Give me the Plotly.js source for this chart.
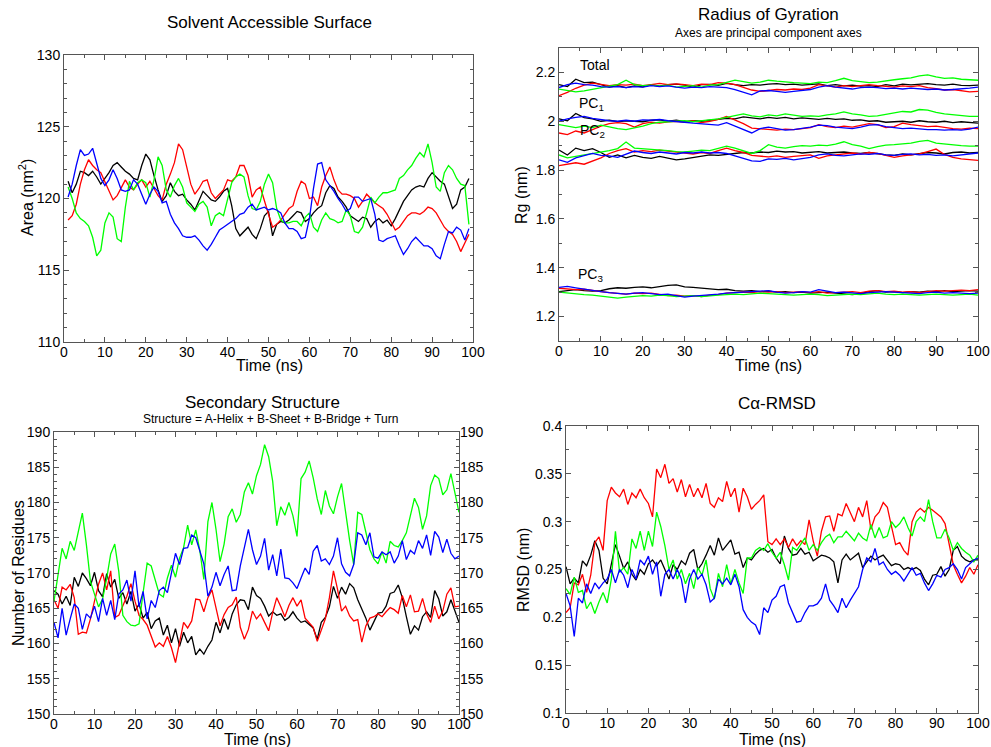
<!DOCTYPE html>
<html>
<head>
<meta charset="utf-8">
<script src="https://cdn.plot.ly/plotly-3.0.1.min.js"></script>
<style>html,body{margin:0;padding:0;background:#fff;}#chart{width:991px;height:747px;}</style>
</head>
<body>
<div id="chart"></div>
<script>
// ---------------- time grids ----------------
const tSAS = [1,2,3,4,5,6,7,8,9,10,11,12,13,14,15,16,17,18,19,20,21,22,23,24,25,26,27,28,29,30,31,32,33,34,35,36,37,38,39,40,41,42,43,44,45,46,47,48,49,50,51,52,53,54,55,56,57,58,59,60,61,62,63,64,65,66,67,68,69,70,71,72,73,74,75,76,77,78,79,80,81,82,83,84,85,86,87,88,89,90,91,92,93,94,95,96,97,98,99];
const t101 = [0,1,2,3,4,5,6,7,8,9,10,11,12,13,14,15,16,17,18,19,20,21,22,23,24,25,26,27,28,29,30,31,32,33,34,35,36,37,38,39,40,41,42,43,44,45,46,47,48,49,50,51,52,53,54,55,56,57,58,59,60,61,62,63,64,65,66,67,68,69,70,71,72,73,74,75,76,77,78,79,80,81,82,83,84,85,86,87,88,89,90,91,92,93,94,95,96,97,98,99,100];
const t51 = [0,2,4,6,8,10,12,14,16,18,20,22,24,26,28,30,32,34,36,38,40,42,44,46,48,50,52,54,56,58,60,62,64,66,68,70,72,74,76,78,80,82,84,86,88,90,92,94,96,98,100];

// ---------------- Solvent Accessible Surface (nm^2) ----------------
const sasBlack = [121.2,120.4,121.0,121.9,121.8,121.6,121.9,121.5,121.0,121.4,
121.8,122.3,122.5,122.2,121.9,121.7,121.4,121.3,122.3,123.1,
122.7,121.6,120.6,119.8,120.2,121.1,120.5,120.2,120.3,119.9,
119.6,119.2,119.9,120.5,120.2,119.9,119.8,120.1,120.5,120.7,
119.5,117.9,117.4,117.7,118.0,117.5,117.2,117.9,118.8,119.1,
117.4,118.2,118.4,118.3,118.5,118.8,119.1,119.0,118.4,118.6,
119.0,119.3,119.5,120.4,120.9,120.7,120.1,119.8,119.4,118.8,
118.6,118.4,118.7,118.6,118.0,118.4,118.6,118.3,118.5,118.1,
118.6,119.2,119.8,120.2,120.6,120.8,120.9,120.8,121.4,121.8,
121.5,121.2,121.0,120.2,119.3,119.6,120.6,120.8,121.4];
const sasRed = [118.5,118.8,119.6,121.0,122.0,122.7,122.3,122.0,121.8,121.2,
120.5,119.9,120.2,120.8,121.3,120.8,120.6,121.0,121.3,120.8,
121.2,120.7,120.2,119.9,121.0,121.7,122.5,123.8,123.4,122.2,
121.0,120.3,120.7,121.2,121.3,120.4,120.0,120.3,120.6,121.3,
121.2,121.5,122.3,122.3,121.6,120.1,120.6,120.8,119.8,118.9,
118.0,118.2,118.5,118.9,119.3,119.5,120.5,121.2,121.0,120.0,
120.1,119.5,120.8,121.6,122.2,121.3,120.6,120.3,120.3,120.2,
120.0,119.4,119.8,120.3,120.0,119.7,119.5,119.3,118.9,118.4,
117.8,118.0,118.4,118.8,119.0,119.0,118.9,119.1,119.4,119.3,
119.0,118.5,118.0,117.7,117.5,117.0,116.3,116.9,117.5];
const sasGreen = [120.8,120.0,119.0,118.6,118.4,118.1,117.3,116.0,116.4,118.3,
119.0,118.7,117.2,117.0,119.4,121.2,120.6,121.1,121.3,121.1,
120.1,121.3,122.9,122.3,120.6,120.1,120.9,121.4,120.8,119.7,
119.4,119.1,119.6,119.8,119.4,118.1,118.8,119.0,118.8,120.0,
121.1,121.5,121.7,121.5,120.2,119.3,119.2,119.8,121.0,121.7,
121.1,119.3,118.5,118.3,118.3,118.4,118.4,118.1,118.7,119.0,
118.0,117.7,118.5,119.0,118.6,118.5,118.3,118.4,119.2,118.8,
117.7,117.6,118.0,119.0,120.1,119.7,120.1,120.4,120.4,120.5,
120.6,121.4,121.6,122.0,122.3,122.8,123.2,122.9,123.8,122.5,
120.8,120.5,121.8,122.3,122.0,121.4,121.0,120.9,118.2];
const sasBlue = [120.1,121.0,122.3,123.4,123.0,123.1,123.5,122.4,121.4,120.9,
121.3,122.0,121.4,120.6,120.5,120.6,121.3,121.0,120.3,119.6,
120.3,120.8,120.5,119.7,119.8,118.9,118.3,117.9,117.4,117.3,
117.3,117.4,117.1,116.7,116.4,116.8,117.3,117.8,118.0,118.2,
118.4,118.6,118.9,119.0,119.4,119.6,119.2,119.3,119.4,119.2,
119.3,119.2,119.0,118.3,117.9,117.9,117.7,117.2,117.3,118.6,
120.7,122.4,122.5,121.3,120.9,120.5,120.0,119.6,119.1,119.3,
120.1,120.1,119.8,119.9,120.0,118.9,117.1,117.0,117.2,117.3,
117.4,116.7,116.1,116.5,117.0,117.3,117.0,116.7,116.7,116.5,
116.0,115.8,116.8,117.7,117.6,118.0,117.8,117.1,117.9];

// ---------------- Radius of Gyration (nm) ----------------
const rgTotBlack = [2.150,2.142,2.172,2.158,2.160,2.150,2.140,2.146,2.138,2.145,
2.141,2.150,2.144,2.150,2.152,2.148,2.139,2.150,2.151,2.147,
2.155,2.150,2.146,2.150,2.148,2.152,2.154,2.150,2.152,2.148,
2.150,2.153,2.146,2.150,2.145,2.148,2.144,2.146,2.142,2.150,
2.145,2.152,2.149,2.152,2.154,2.150,2.148,2.152,2.147,2.146,2.148];
const rgTotRed = [2.105,2.118,2.135,2.148,2.156,2.150,2.146,2.150,2.148,2.152,
2.146,2.150,2.155,2.150,2.153,2.150,2.146,2.152,2.150,2.158,
2.156,2.150,2.138,2.128,2.122,2.126,2.130,2.128,2.132,2.130,
2.136,2.150,2.145,2.140,2.146,2.142,2.146,2.150,2.146,2.142,
2.140,2.145,2.142,2.146,2.138,2.134,2.128,2.130,2.124,2.120,2.122];
const rgTotGreen = [2.132,2.125,2.120,2.124,2.130,2.138,2.142,2.150,2.168,2.150,
2.146,2.148,2.144,2.148,2.140,2.142,2.146,2.140,2.148,2.150,
2.160,2.168,2.162,2.156,2.160,2.168,2.164,2.160,2.158,2.156,
2.154,2.160,2.158,2.166,2.176,2.166,2.162,2.158,2.160,2.166,
2.170,2.174,2.178,2.186,2.190,2.182,2.176,2.178,2.172,2.170,2.168];
const rgTotBlue = [2.138,2.150,2.156,2.150,2.148,2.142,2.140,2.142,2.138,2.142,
2.140,2.146,2.142,2.145,2.140,2.136,2.140,2.138,2.142,2.140,
2.138,2.130,2.120,2.108,2.124,2.126,2.122,2.118,2.122,2.126,
2.130,2.140,2.146,2.140,2.136,2.132,2.138,2.140,2.138,2.134,
2.136,2.132,2.136,2.134,2.130,2.132,2.128,2.130,2.132,2.136,2.140];
const rgPC1Black = [2.010,2.002,2.032,2.015,2.010,2.000,2.004,1.998,2.002,2.000,
1.998,2.004,2.006,2.000,2.004,1.998,2.002,2.000,2.004,2.008,
2.012,2.010,2.018,2.014,2.010,2.016,2.012,2.016,2.010,2.014,
2.010,2.008,2.012,2.008,2.010,2.004,2.006,2.000,2.002,1.996,
1.998,2.000,1.996,2.002,1.998,1.996,2.000,1.994,1.998,1.996,1.992];
const rgPC1Red = [1.952,1.945,1.960,1.952,1.966,1.980,1.990,1.994,1.990,1.976,
1.990,1.996,1.992,1.998,2.000,1.996,2.002,1.994,2.000,2.008,
2.020,2.006,1.990,1.972,1.970,1.968,1.964,1.968,1.966,1.970,
1.974,1.986,1.978,1.974,1.980,1.976,1.982,1.990,1.986,1.974,
1.978,1.992,1.986,1.982,1.978,1.980,1.974,1.970,1.968,1.972,1.970];
const rgPC1Green = [1.986,1.980,1.974,1.980,1.974,1.984,1.976,1.970,1.966,1.972,
1.980,1.990,1.996,1.998,2.000,2.002,1.998,2.002,2.004,2.010,
2.016,2.022,2.030,2.022,2.018,2.026,2.022,2.030,2.026,2.020,
2.022,2.020,2.026,2.030,2.038,2.030,2.026,2.020,2.022,2.028,
2.034,2.040,2.038,2.048,2.046,2.036,2.030,2.026,2.022,2.020,2.020];
const rgPC1Blue = [2.000,2.010,2.016,2.020,2.012,2.006,2.002,2.000,2.004,2.000,
2.006,2.004,2.008,2.002,2.000,1.996,1.992,1.990,1.986,1.984,
1.994,1.980,1.966,1.952,1.970,1.976,1.970,1.964,1.966,1.970,
1.976,1.984,1.982,1.976,1.972,1.970,1.976,1.984,1.986,1.978,
1.974,1.970,1.972,1.968,1.966,1.966,1.964,1.966,1.964,1.968,1.976];
const rgPC2Black = [1.882,1.862,1.890,1.880,1.888,1.872,1.852,1.862,1.850,1.860,
1.852,1.848,1.856,1.850,1.842,1.846,1.852,1.856,1.862,1.860,
1.864,1.868,1.872,1.870,1.874,1.872,1.878,1.874,1.876,1.870,
1.872,1.876,1.870,1.872,1.874,1.870,1.868,1.872,1.866,1.862,
1.860,1.866,1.862,1.868,1.872,1.870,1.866,1.872,1.874,1.870,1.872];
const rgPC2Red = [1.818,1.824,1.830,1.824,1.838,1.850,1.868,1.880,1.888,1.874,
1.880,1.876,1.882,1.878,1.872,1.870,1.866,1.872,1.868,1.880,
1.890,1.880,1.872,1.860,1.856,1.854,1.858,1.852,1.856,1.858,
1.862,1.848,1.858,1.862,1.866,1.870,1.866,1.872,1.868,1.860,
1.852,1.858,1.862,1.866,1.876,1.886,1.864,1.852,1.846,1.842,1.840];
const rgPC2Green = [1.862,1.850,1.856,1.862,1.868,1.872,1.880,1.888,1.915,1.890,
1.888,1.886,1.884,1.880,1.876,1.874,1.878,1.882,1.880,1.888,
1.898,1.890,1.878,1.868,1.880,1.904,1.894,1.890,1.896,1.900,
1.898,1.902,1.900,1.906,1.916,1.904,1.898,1.888,1.896,1.902,
1.904,1.906,1.910,1.918,1.922,1.910,1.906,1.902,1.900,1.898,1.898];
const rgPC2Blue = [1.842,1.832,1.850,1.860,1.868,1.860,1.858,1.852,1.866,1.878,
1.872,1.868,1.874,1.870,1.866,1.872,1.870,1.874,1.870,1.872,
1.868,1.858,1.848,1.838,1.836,1.846,1.844,1.848,1.842,1.848,
1.852,1.862,1.866,1.860,1.858,1.862,1.866,1.864,1.868,1.862,
1.860,1.864,1.866,1.862,1.864,1.860,1.862,1.858,1.862,1.866,1.870];
const rgPC3Black = [1.302,1.306,1.310,1.306,1.304,1.306,1.314,1.318,1.316,1.320,
1.322,1.318,1.324,1.328,1.330,1.322,1.320,1.316,1.312,1.310,
1.312,1.306,1.304,1.306,1.302,1.304,1.300,1.302,1.298,1.300,
1.296,1.298,1.300,1.296,1.292,1.290,1.294,1.302,1.306,1.300,
1.302,1.298,1.302,1.300,1.304,1.302,1.306,1.302,1.304,1.306,1.304];
const rgPC3Red = [1.316,1.314,1.310,1.312,1.306,1.302,1.298,1.296,1.292,1.296,
1.294,1.296,1.290,1.286,1.288,1.284,1.286,1.282,1.288,1.290,
1.296,1.298,1.300,1.298,1.302,1.300,1.302,1.298,1.300,1.302,
1.298,1.302,1.296,1.298,1.300,1.302,1.298,1.304,1.306,1.302,
1.304,1.300,1.302,1.298,1.302,1.306,1.304,1.306,1.308,1.306,1.310];
const rgPC3Green = [1.300,1.296,1.294,1.290,1.288,1.284,1.280,1.276,1.280,1.282,
1.286,1.284,1.288,1.286,1.282,1.284,1.286,1.282,1.286,1.288,
1.290,1.292,1.290,1.294,1.296,1.294,1.292,1.290,1.288,1.290,
1.292,1.290,1.286,1.288,1.290,1.292,1.290,1.294,1.296,1.292,
1.290,1.292,1.290,1.288,1.290,1.292,1.290,1.288,1.290,1.292,1.288];
const rgPC3Blue = [1.320,1.324,1.318,1.312,1.306,1.302,1.298,1.294,1.292,1.296,
1.298,1.294,1.290,1.292,1.286,1.280,1.284,1.286,1.288,1.292,
1.296,1.298,1.300,1.302,1.304,1.306,1.300,1.296,1.298,1.302,
1.300,1.310,1.304,1.298,1.300,1.296,1.294,1.298,1.300,1.302,
1.300,1.298,1.296,1.294,1.298,1.300,1.296,1.298,1.296,1.294,1.296];

// ---------------- Secondary Structure (number of residues) ----------------
const ssBlack = [167.5,167.0,165.6,166.7,165.4,169.4,168.1,170.0,169.2,168.2,
170.1,167.5,166.6,169.9,168.0,169.1,166.4,167.2,165.6,167.4,
164.6,165.6,163.6,164.4,162.1,163.2,163.6,161.2,162.6,160.1,
162.1,159.6,161.6,160.1,161.0,158.4,159.2,158.5,159.6,160.5,
163.0,161.5,163.5,162.0,164.2,165.5,166.2,166.1,164.8,168.0,
166.8,166.4,165.3,163.9,164.5,164.0,164.2,163.3,163.7,164.5,
163.6,163.0,163.2,162.7,162.2,160.6,163.0,163.7,165.2,168.1,
166.4,168.0,167.0,168.5,167.9,166.2,164.8,163.6,161.9,163.0,
164.3,164.4,165.3,167.1,167.3,168.3,166.5,163.8,161.3,162.5,
161.9,163.8,164.5,163.7,167.5,166.3,163.9,164.5,166.2,164.6,163.0];
const ssRed = [166.2,165.0,168.0,167.6,168.4,166.5,161.3,161.6,161.5,163.5,
166.0,168.4,170.0,167.6,170.3,163.7,164.0,165.4,166.7,168.5,
166.0,164.0,163.4,162.6,161.0,159.5,160.1,159.6,161.0,159.4,
157.3,160.4,163.0,162.2,163.2,166.3,166.2,164.5,166.5,167.6,
165.0,162.5,164.1,165.1,165.5,166.6,162.3,160.6,162.0,164.6,
163.5,164.2,163.0,161.8,164.4,166.5,165.2,163.8,165.4,166.5,
165.3,166.2,163.6,163.0,162.3,160.3,161.8,163.5,166.5,170.3,
167.7,164.6,165.3,163.9,163.2,163.4,160.2,162.5,163.6,163.8,
164.2,163.8,164.5,165.1,164.8,164.3,166.8,165.2,166.9,164.5,
164.6,166.4,164.2,163.0,165.3,163.5,164.6,167.0,167.9,165.2,165.3];
const ssGreen = [166.0,170.0,173.5,172.0,174.5,173.2,176.0,178.5,174.0,168.8,
167.0,165.2,166.3,169.2,172.7,174.1,170.2,164.0,163.1,162.6,
162.5,162.8,167.2,171.4,171.0,169.1,167.0,166.6,169.3,171.1,
169.4,172.1,173.6,176.8,174.0,176.1,173.2,169.1,177.3,180.0,
176.2,171.6,174.1,178.0,179.1,177.2,178.3,181.5,182.8,181.2,
183.8,185.4,188.2,186.5,183.0,176.7,179.4,178.2,180.0,178.1,
175.2,183.4,184.3,185.9,183.5,180.5,178.3,181.7,179.5,178.4,
180.8,182.7,178.5,174.6,171.2,178.6,178.3,175.9,173.3,172.0,
171.3,173.0,171.4,174.5,173.9,173.7,174.6,175.7,178.2,180.6,
179.3,176.2,178.1,182.4,183.9,183.4,181.1,181.8,184.1,181.5,178.6];
const ssBlue = [163.0,160.8,165.0,161.2,163.5,165.6,165.0,162.0,164.2,163.6,
165.3,163.1,166.4,164.0,166.1,163.4,167.0,167.6,169.0,166.0,
170.3,165.2,167.4,163.5,166.1,165.1,167.5,168.0,167.2,170.2,
172.8,171.2,173.5,173.6,175.4,175.0,173.1,171.3,166.7,168.0,
170.1,168.2,169.8,171.0,167.5,167.6,171.0,173.5,176.2,173.3,
171.2,172.4,174.9,170.4,172.6,169.6,173.4,169.3,169.2,168.6,
167.8,169.3,170.7,169.8,173.1,173.9,171.7,172.0,171.2,172.4,
175.0,171.3,170.1,169.6,171.2,175.7,175.4,174.0,175.7,172.3,
172.1,173.0,172.6,173.0,171.4,172.4,174.6,171.9,173.2,172.7,
174.6,173.5,175.4,172.5,175.9,175.1,172.9,174.8,172.8,172.0,172.4];

// ---------------- C-alpha RMSD (nm) ----------------
const rmsdBlack = [0.253,0.235,0.241,0.236,0.259,0.254,0.265,0.280,0.270,0.241,
0.235,0.255,0.276,0.264,0.251,0.258,0.245,0.239,0.250,0.245,
0.256,0.260,0.254,0.260,0.250,0.240,0.255,0.250,0.259,0.255,
0.267,0.271,0.250,0.256,0.265,0.275,0.265,0.283,0.270,0.275,
0.281,0.266,0.268,0.252,0.262,0.260,0.266,0.270,0.272,0.268,
0.271,0.262,0.256,0.285,0.272,0.265,0.266,0.272,0.266,0.268,
0.259,0.262,0.265,0.264,0.262,0.258,0.236,0.260,0.266,0.260,
0.264,0.267,0.252,0.258,0.264,0.260,0.263,0.265,0.260,0.254,
0.256,0.255,0.250,0.252,0.250,0.252,0.249,0.240,0.234,0.244,
0.245,0.253,0.243,0.250,0.270,0.274,0.264,0.260,0.258,0.260,0.260];
const rmsdRed = [0.205,0.210,0.236,0.234,0.245,0.226,0.244,0.278,0.284,0.270,
0.322,0.336,0.330,0.326,0.334,0.318,0.330,0.325,0.334,0.325,
0.319,0.305,0.355,0.346,0.360,0.340,0.345,0.331,0.344,0.326,
0.339,0.326,0.335,0.325,0.340,0.319,0.315,0.325,0.321,0.342,
0.326,0.335,0.310,0.335,0.326,0.313,0.318,0.322,0.328,0.279,
0.276,0.282,0.276,0.282,0.273,0.282,0.275,0.280,0.276,0.302,
0.280,0.264,0.290,0.305,0.306,0.290,0.308,0.306,0.319,0.310,
0.300,0.315,0.305,0.322,0.292,0.305,0.310,0.320,0.315,0.295,
0.276,0.278,0.270,0.265,0.300,0.310,0.314,0.310,0.315,0.312,
0.308,0.305,0.298,0.275,0.255,0.245,0.236,0.243,0.252,0.245,0.255];
const rmsdGreen = [0.230,0.224,0.242,0.226,0.228,0.209,0.216,0.204,0.216,0.226,
0.215,0.240,0.290,0.247,0.252,0.245,0.282,0.272,0.290,0.270,
0.290,0.274,0.310,0.295,0.275,0.250,0.260,0.240,0.250,0.235,
0.246,0.230,0.252,0.244,0.260,0.230,0.219,0.246,0.232,0.255,
0.235,0.250,0.236,0.225,0.262,0.262,0.270,0.273,0.270,0.277,
0.268,0.262,0.268,0.255,0.239,0.273,0.270,0.276,0.283,0.270,
0.276,0.270,0.278,0.284,0.287,0.278,0.284,0.284,0.290,0.285,
0.280,0.288,0.283,0.280,0.297,0.283,0.294,0.283,0.285,0.300,
0.294,0.298,0.305,0.294,0.285,0.300,0.305,0.300,0.323,0.300,
0.283,0.283,0.292,0.283,0.270,0.278,0.272,0.268,0.265,0.258,0.265];
const rmsdBlue = [0.225,0.212,0.180,0.220,0.215,0.235,0.225,0.236,0.230,0.236,
0.240,0.250,0.236,0.250,0.244,0.231,0.250,0.240,0.260,0.255,
0.264,0.245,0.258,0.222,0.245,0.250,0.240,0.250,0.240,0.215,
0.240,0.250,0.240,0.245,0.234,0.216,0.220,0.240,0.235,0.241,
0.234,0.245,0.232,0.208,0.200,0.195,0.192,0.182,0.210,0.205,
0.218,0.222,0.232,0.234,0.215,0.205,0.195,0.196,0.205,0.212,
0.212,0.214,0.220,0.235,0.218,0.212,0.205,0.220,0.210,0.218,
0.225,0.232,0.250,0.262,0.258,0.272,0.255,0.258,0.250,0.245,
0.248,0.244,0.238,0.245,0.252,0.244,0.246,0.236,0.228,0.235,
0.244,0.242,0.250,0.252,0.256,0.250,0.240,0.252,0.256,0.260,0.262];

// ---------------- styling ----------------
const FONT = 'Liberation Sans, Arial, Helvetica, sans-serif';
const COLORS = {black:'#000000', red:'#ff0000', green:'#00ff00', blue:'#0000ff'};
const W = 991, H = 747;
const LW = 1.3;

function line(x, y, color, xa, ya) {
  return {x: x, y: y, xaxis: xa, yaxis: ya, type: 'scatter', mode: 'lines',
          line: {color: color, width: LW}, hoverinfo: 'skip', showlegend: false};
}

const traces = [];
// panel 1
traces.push(line(tSAS, sasBlack, COLORS.black, 'x', 'y'));
traces.push(line(tSAS, sasRed, COLORS.red, 'x', 'y'));
traces.push(line(tSAS, sasGreen, COLORS.green, 'x', 'y'));
traces.push(line(tSAS, sasBlue, COLORS.blue, 'x', 'y'));
// panel 2
[[rgTotBlack,rgTotRed,rgTotGreen,rgTotBlue],
 [rgPC1Black,rgPC1Red,rgPC1Green,rgPC1Blue],
 [rgPC2Black,rgPC2Red,rgPC2Green,rgPC2Blue],
 [rgPC3Black,rgPC3Red,rgPC3Green,rgPC3Blue]].forEach(function(g){
  traces.push(line(t51, g[0], COLORS.black, 'x2', 'y2'));
  traces.push(line(t51, g[1], COLORS.red, 'x2', 'y2'));
  traces.push(line(t51, g[2], COLORS.green, 'x2', 'y2'));
  traces.push(line(t51, g[3], COLORS.blue, 'x2', 'y2'));
});
// panel 3
traces.push(line(t101, ssBlack, COLORS.black, 'x3', 'y3'));
traces.push(line(t101, ssRed, COLORS.red, 'x3', 'y3'));
traces.push(line(t101, ssGreen, COLORS.green, 'x3', 'y3'));
traces.push(line(t101, ssBlue, COLORS.blue, 'x3', 'y3'));
// invisible carrier for right-hand labels of panel 3
const carrier = line(t101, ssGreen, COLORS.green, 'x3', 'y5');
carrier.opacity = 0; carrier.line.width = 0;
traces.push(carrier);
// panel 4
traces.push(line(t101, rmsdBlack, COLORS.black, 'x4', 'y4'));
traces.push(line(t101, rmsdRed, COLORS.red, 'x4', 'y4'));
traces.push(line(t101, rmsdGreen, COLORS.green, 'x4', 'y4'));
traces.push(line(t101, rmsdBlue, COLORS.blue, 'x4', 'y4'));

function ax(o) {
  const base = {showgrid: false, zeroline: false, showline: true, linecolor: '#555', linewidth: 1,
    mirror: 'ticks', ticks: 'inside', ticklen: 5, tickwidth: 1, tickcolor: '#555',
    tickfont: {family: FONT, size: 14, color: '#000'}, fixedrange: true};
  return Object.assign(base, o);
}
function minor(d) { return {dtick: d, ticks: 'inside', ticklen: 3, tickwidth: 1, tickcolor: '#555', showgrid: false}; }
function px(x) { return x / W; }
function py(y) { return 1 - y / H; }

function ann(text, x, y, size, extra) {
  return Object.assign({text: text, x: px(x), y: py(y), xref: 'paper', yref: 'paper',
    showarrow: false, xanchor: 'center', yanchor: 'middle',
    font: {family: FONT, size: size, color: '#000'}}, extra || {});
}

const XS = -3;
const layout = {
  width: W, height: H,
  margin: {l: 0, r: 0, t: 0, b: 0},
  paper_bgcolor: '#fff', plot_bgcolor: '#fff',
  showlegend: false,
  xaxis: ax({domain: [px(64), px(473)], anchor: 'y', range: [0, 100], dtick: 10, tick0: 0, minor: minor(5), ticklabelstandoff: XS}),
  yaxis: ax({domain: [py(342), py(55)], anchor: 'x', range: [110, 130], dtick: 5, tick0: 110, minor: minor(1)}),
  xaxis2: ax({domain: [px(559), px(978)], anchor: 'y2', range: [0, 100], dtick: 10, tick0: 0, minor: minor(5), ticklabelstandoff: XS}),
  yaxis2: ax({domain: [py(341), py(48)], anchor: 'x2', range: [1.1, 2.3], dtick: 0.2, tick0: 1.2, minor: minor(0.1)}),
  xaxis3: ax({domain: [px(54), px(459)], anchor: 'y3', range: [0, 100], dtick: 10, tick0: 0, minor: minor(5), ticklabelstandoff: XS}),
  yaxis3: ax({domain: [py(714), py(432)], anchor: 'x3', range: [150, 190], dtick: 5, tick0: 150, minor: minor(1)}),
  yaxis5: {overlaying: 'y3', anchor: 'x3', side: 'right', range: [150, 190], dtick: 5, tick0: 150,
    showgrid: false, zeroline: false, showline: false, ticks: '', fixedrange: true,
    tickfont: {family: FONT, size: 14, color: '#000'}},
  xaxis4: ax({domain: [px(566), px(978)], anchor: 'y4', range: [0, 100], dtick: 10, tick0: 0, minor: minor(5), ticklabelstandoff: XS}),
  yaxis4: ax({domain: [py(713), py(426)], anchor: 'x4', range: [0.1, 0.4], dtick: 0.05, tick0: 0.1, minor: minor(0.025)}),
  annotations: [
    ann('Solvent Accessible Surface', 269, 22, 17),
    ann('Radius of Gyration', 768.5, 14, 17),
    ann('Axes are principal component axes', 768.5, 33, 12),
    ann('Secondary Structure', 262.5, 402, 17),
    ann('Structure = A-Helix + B-Sheet + B-Bridge + Turn', 270, 418.5, 12),
    ann('C\u03b1-RMSD', 777, 403, 17),
    ann('Time (ns)', 269, 365, 16),
    ann('Time (ns)', 768, 365, 16),
    ann('Time (ns)', 257, 739, 16),
    ann('Time (ns)', 772, 739, 16),
    ann('Area (nm<sup>2</sup>)', 26, 198, 16, {textangle: -90}),
    ann('Rg (nm)', 521, 195, 16, {textangle: -90}),
    ann('Number of Residues', 18, 573, 16, {textangle: -90}),
    ann('RMSD (nm)', 523, 570, 16, {textangle: -90}),
    ann('Total', 578, 65, 14, {xanchor: 'left'}),
    ann('PC<sub>1</sub>', 577, 104, 14, {xanchor: 'left'}),
    ann('PC<sub>2</sub>', 578, 131, 14, {xanchor: 'left'}),
    ann('PC<sub>3</sub>', 576, 275, 14, {xanchor: 'left'})
  ]
};

Plotly.newPlot('chart', traces, layout, {staticPlot: true, displayModeBar: false});
</script>
</body>
</html>
